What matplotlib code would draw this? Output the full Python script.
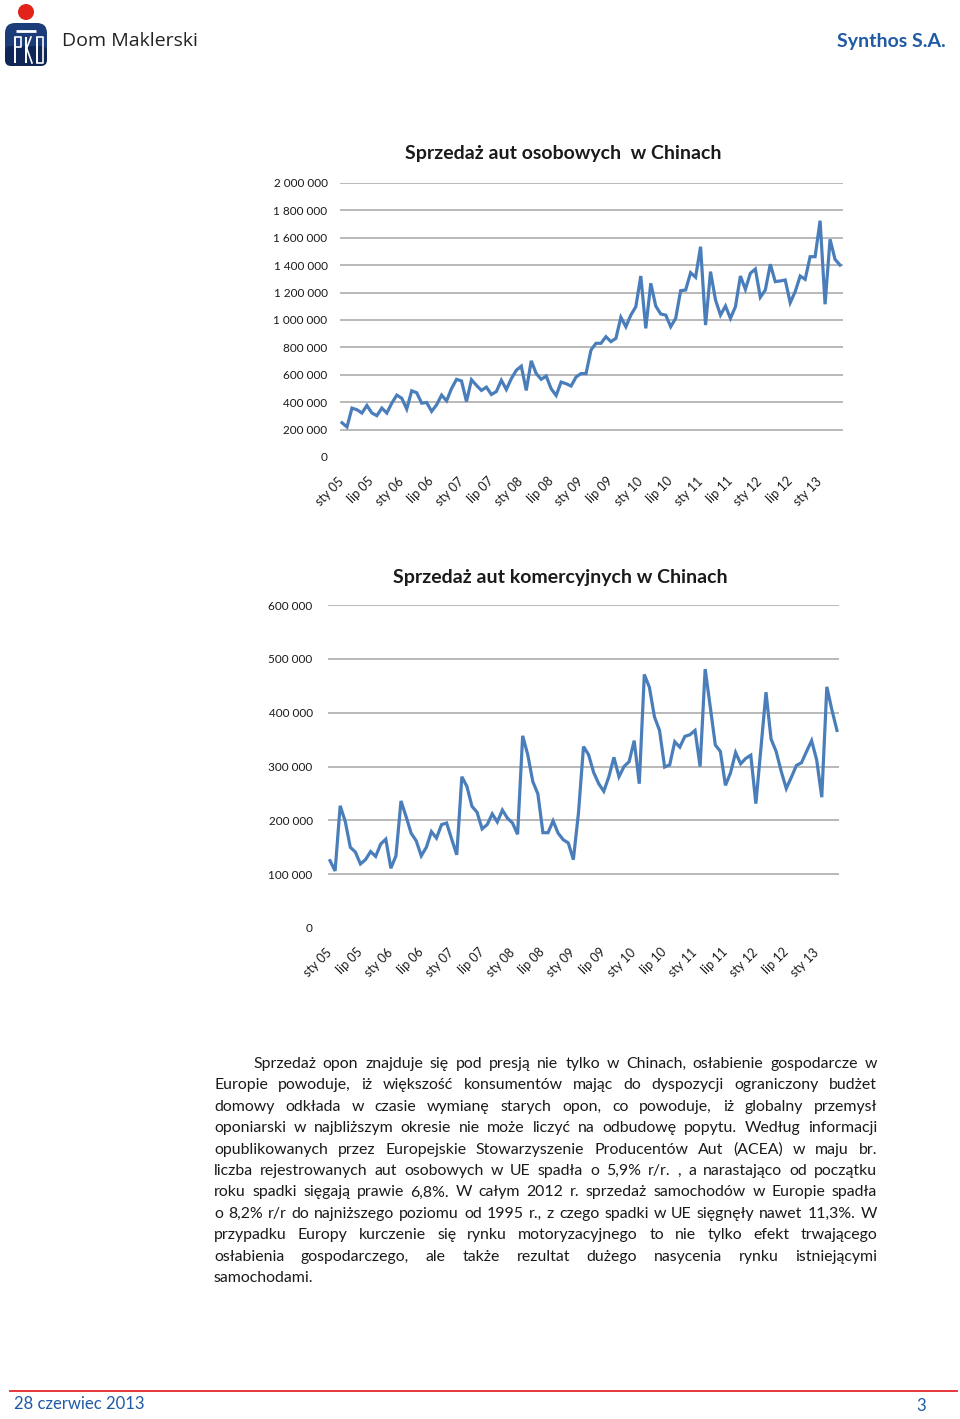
import numpy as np
import matplotlib
matplotlib.use("Agg")
import matplotlib.pyplot as plt
from matplotlib.patches import Circle, FancyBboxPatch

# ---------------- data (monthly, Jan 2005 - May 2013) ----------------
passenger_k = [250, 219, 357, 345, 321, 376, 321, 302, 357, 321, 393, 452,
               429, 350, 483, 469, 393, 398, 333, 381, 452, 410, 500, 567,
               555, 405, 564, 523, 486, 510, 456, 478, 560, 493, 572, 633,
               663, 486, 702, 609, 567, 591, 498, 449, 547, 535, 518, 584,
               609, 609, 781, 830, 830, 878, 842, 866, 1020, 951, 1036, 1097,
               1321, 939, 1268, 1102, 1044, 1036, 951, 1012, 1214, 1219, 1345, 1312,
               1535, 963, 1353, 1146, 1036, 1102, 1012, 1097, 1321, 1224, 1341, 1372,
               1166, 1219, 1407, 1280, 1285, 1292, 1126, 1207, 1321, 1297, 1462, 1462,
               1725, 1115, 1589, 1443, 1401]
commercial_k = [125, 106, 227, 198, 150, 141, 119, 127, 142, 133, 156, 165,
                111, 134, 236, 207, 176, 162, 134, 150, 179, 167, 192, 195,
                165, 136, 281, 263, 226, 215, 184, 192, 212, 197, 219, 204,
                195, 174, 357, 322, 272, 249, 177, 177, 199, 176, 164, 158,
                127, 213, 337, 322, 289, 268, 254, 281, 317, 281, 300, 309,
                348, 268, 471, 447, 392, 367, 299, 303, 346, 336, 356, 359,
                367, 300, 481, 411, 340, 328, 265, 288, 326, 305, 315, 321,
                231, 334, 438, 351, 328, 291, 259, 280, 302, 307, 328, 348,
                312, 243, 448, 405, 367]
tick_labels = ["sty 05", "lip 05", "sty 06", "lip 06", "sty 07", "lip 07",
               "sty 08", "lip 08", "sty 09", "lip 09", "sty 10", "lip 10",
               "sty 11", "lip 11", "sty 12", "lip 12", "sty 13"]
tick_step = 6
title1 = "Sprzedaż aut osobowych  w Chinach"
title2 = "Sprzedaż aut komercyjnych w Chinach"
yticks1 = list(range(0, 2000001, 200000))
yticks2 = list(range(0, 600001, 100000))

paragraph = [
    "Sprzedaż opon znajduje się pod presją nie tylko w Chinach, osłabienie gospodarcze w",
    "Europie  powoduje, iż większość konsumentów mając do dyspozycji ograniczony budżet",
    "domowy odkłada w czasie wymianę starych opon, co powoduje, iż globalny przemysł",
    "oponiarski w najbliższym okresie nie może liczyć na odbudowę popytu. Według informacji",
    "opublikowanych przez Europejskie Stowarzyszenie Producentów Aut (ACEA) w maju br.",
    "liczba rejestrowanych aut osobowych w UE spadła o 5,9% r/r. , a narastająco od początku",
    "roku spadki  sięgają  prawie 6,8%. W całym 2012 r. sprzedaż samochodów w Europie spadła",
    "o 8,2% r/r do najniższego poziomu od 1995 r., z czego spadki w UE sięgnęły nawet 11,3%.  W",
    "przypadku Europy kurczenie się rynku motoryzacyjnego to nie tylko efekt trwającego",
    "osłabienia gospodarczego, ale także rezultat dużego nasycenia rynku istniejącymi",
    "samochodami.",
]

# ---------------- styling ----------------
W, H = 960, 1419
FONT = "Lato"
LINE_C = "#4a7ebb"
GRID_C = "#a6a6a6"
BLUE_TXT = "#1f5aa6"

fig = plt.figure(figsize=(W / 100, H / 100), dpi=100)
fig.patch.set_facecolor("white")


def fmt(v):
    return f"{int(v):,}".replace(",", " ")


def px_axes(left, top, right, bottom):
    return fig.add_axes([left / W, 1 - bottom / H, (right - left) / W, (bottom - top) / H])


def draw_chart(ax, values, scale, yticks, xlim, title, title_xy, pad_y, pad_x):
    x = np.arange(len(values))
    y = np.array(values) * scale
    ax.plot(x, y, color=LINE_C, lw=2.3, solid_joinstyle="miter", zorder=3)
    ax.set_xlim(*xlim)
    ax.set_ylim(yticks[0], yticks[-1])
    ax.set_yticks(yticks)
    ax.set_yticklabels([fmt(v) for v in yticks], fontsize=8.5, family=FONT, color="#1a1a1a")
    ax.set_xticks(x[::tick_step])
    ax.set_xticklabels(tick_labels, rotation=45, ha="right", va="center",
                       rotation_mode="anchor", fontsize=9, family=FONT, color="#1a1a1a")
    ax.tick_params(axis="both", length=0)
    ax.tick_params(axis="y", pad=pad_y)
    ax.tick_params(axis="x", pad=pad_x)
    for s in ax.spines.values():
        s.set_visible(False)
    ax.yaxis.grid(True, color=GRID_C, lw=1.1)
    ax.set_axisbelow(True)
    ax.get_ygridlines()[0].set_visible(False)
    ax.patch.set_alpha(0)
    fig.text(title_xy[0] / W, 1 - title_xy[1] / H, title, ha="center", va="center",
             fontsize=14, fontweight="bold", family=FONT, color="#1a1a1a")


ax1 = px_axes(340, 183, 843, 457)
draw_chart(ax1, passenger_k, 1000, yticks1, (-0.4, 100.6), title1, (563, 153), 9, 16)

ax2 = px_axes(328, 605, 839, 928)
draw_chart(ax2, commercial_k, 1000, yticks2, (-0.4, 100.4), title2, (560, 577), 11, 16)

# ---------------- overlay (header, text, footer) ----------------
ov = fig.add_axes([0, 0, 1, 1], zorder=-1)
ov.set_xlim(0, W)
ov.set_ylim(H, 0)
ov.axis("off")

# logo
ov.add_patch(FancyBboxPatch((5, 23), 42, 43, boxstyle="round,pad=0,rounding_size=10",
                            fc="#1b3c78", ec="none"))
ov.add_patch(FancyBboxPatch((5, 46), 42, 20, boxstyle="round,pad=0,rounding_size=6",
                            fc="#0f2656", ec="none"))
ov.add_patch(Circle((26, 12), 8, fc="#e2231a", ec="none"))
ov.plot([16, 36], [31, 31], color="white", lw=2.0, solid_capstyle="butt")
for xx in (15, 26, 37):
    ov.plot([xx, xx], [37, 63], color="white", lw=1.4, solid_capstyle="butt")
ov.plot([15, 21, 21, 15], [37, 37, 47, 47], color="white", lw=1.2)
ov.plot([26, 31], [50, 37], color="white", lw=1.2)
ov.plot([27, 32], [49, 63], color="white", lw=1.2)
ov.plot([37, 43, 43, 37], [37, 37, 63, 63], color="white", lw=1.2)
ov.text(62, 41, "Dom Maklerski", fontsize=14, family="Open Sans", color="#222222",
        va="center", ha="left")
ov.text(946, 41, "Synthos S.A.", fontsize=14, family=FONT, fontweight="bold",
        color=BLUE_TXT, va="center", ha="right")

# footer
ov.plot([10, 957], [1391, 1391], color="#e3262d", lw=1.3)
ov.text(14, 1404, "28 czerwiec 2013", fontsize=12, family=FONT, color=BLUE_TXT,
        va="center", ha="left")
ov.text(926, 1406, "3", fontsize=12, family=FONT, color=BLUE_TXT, va="center", ha="right")

# justified paragraph
renderer = fig.canvas.get_renderer()


def text_w(s, fs):
    t = ov.text(0, 0, s, fontsize=fs, family=FONT)
    w = t.get_window_extent(renderer).width
    t.remove()
    return w


left, right, indent = 214, 877, 253
base_fs = 10
ratios = []
for i, line in enumerate(paragraph[:-1]):
    target = right - (indent if i == 0 else left)
    ratios.append(target / text_w(line, base_fs))
fs = base_fs * min(ratios) * 0.985

y0, dy = 1068, 21.4
for i, line in enumerate(paragraph):
    words = line.split()
    x0 = indent if i == 0 else left
    yb = y0 + i * dy
    if i == len(paragraph) - 1:
        ov.text(x0, yb, line, fontsize=fs, family=FONT, color="#1a1a1a", va="baseline")
        continue
    widths = [text_w(w_, fs) for w_ in words]
    gap = (right - x0 - sum(widths)) / (len(words) - 1)
    xx = x0
    for w_, ww in zip(words, widths):
        ov.text(xx, yb, w_, fontsize=fs, family=FONT, color="#1a1a1a", va="baseline")
        xx += ww + gap

fig.savefig("out.png", dpi=100, facecolor="white")
